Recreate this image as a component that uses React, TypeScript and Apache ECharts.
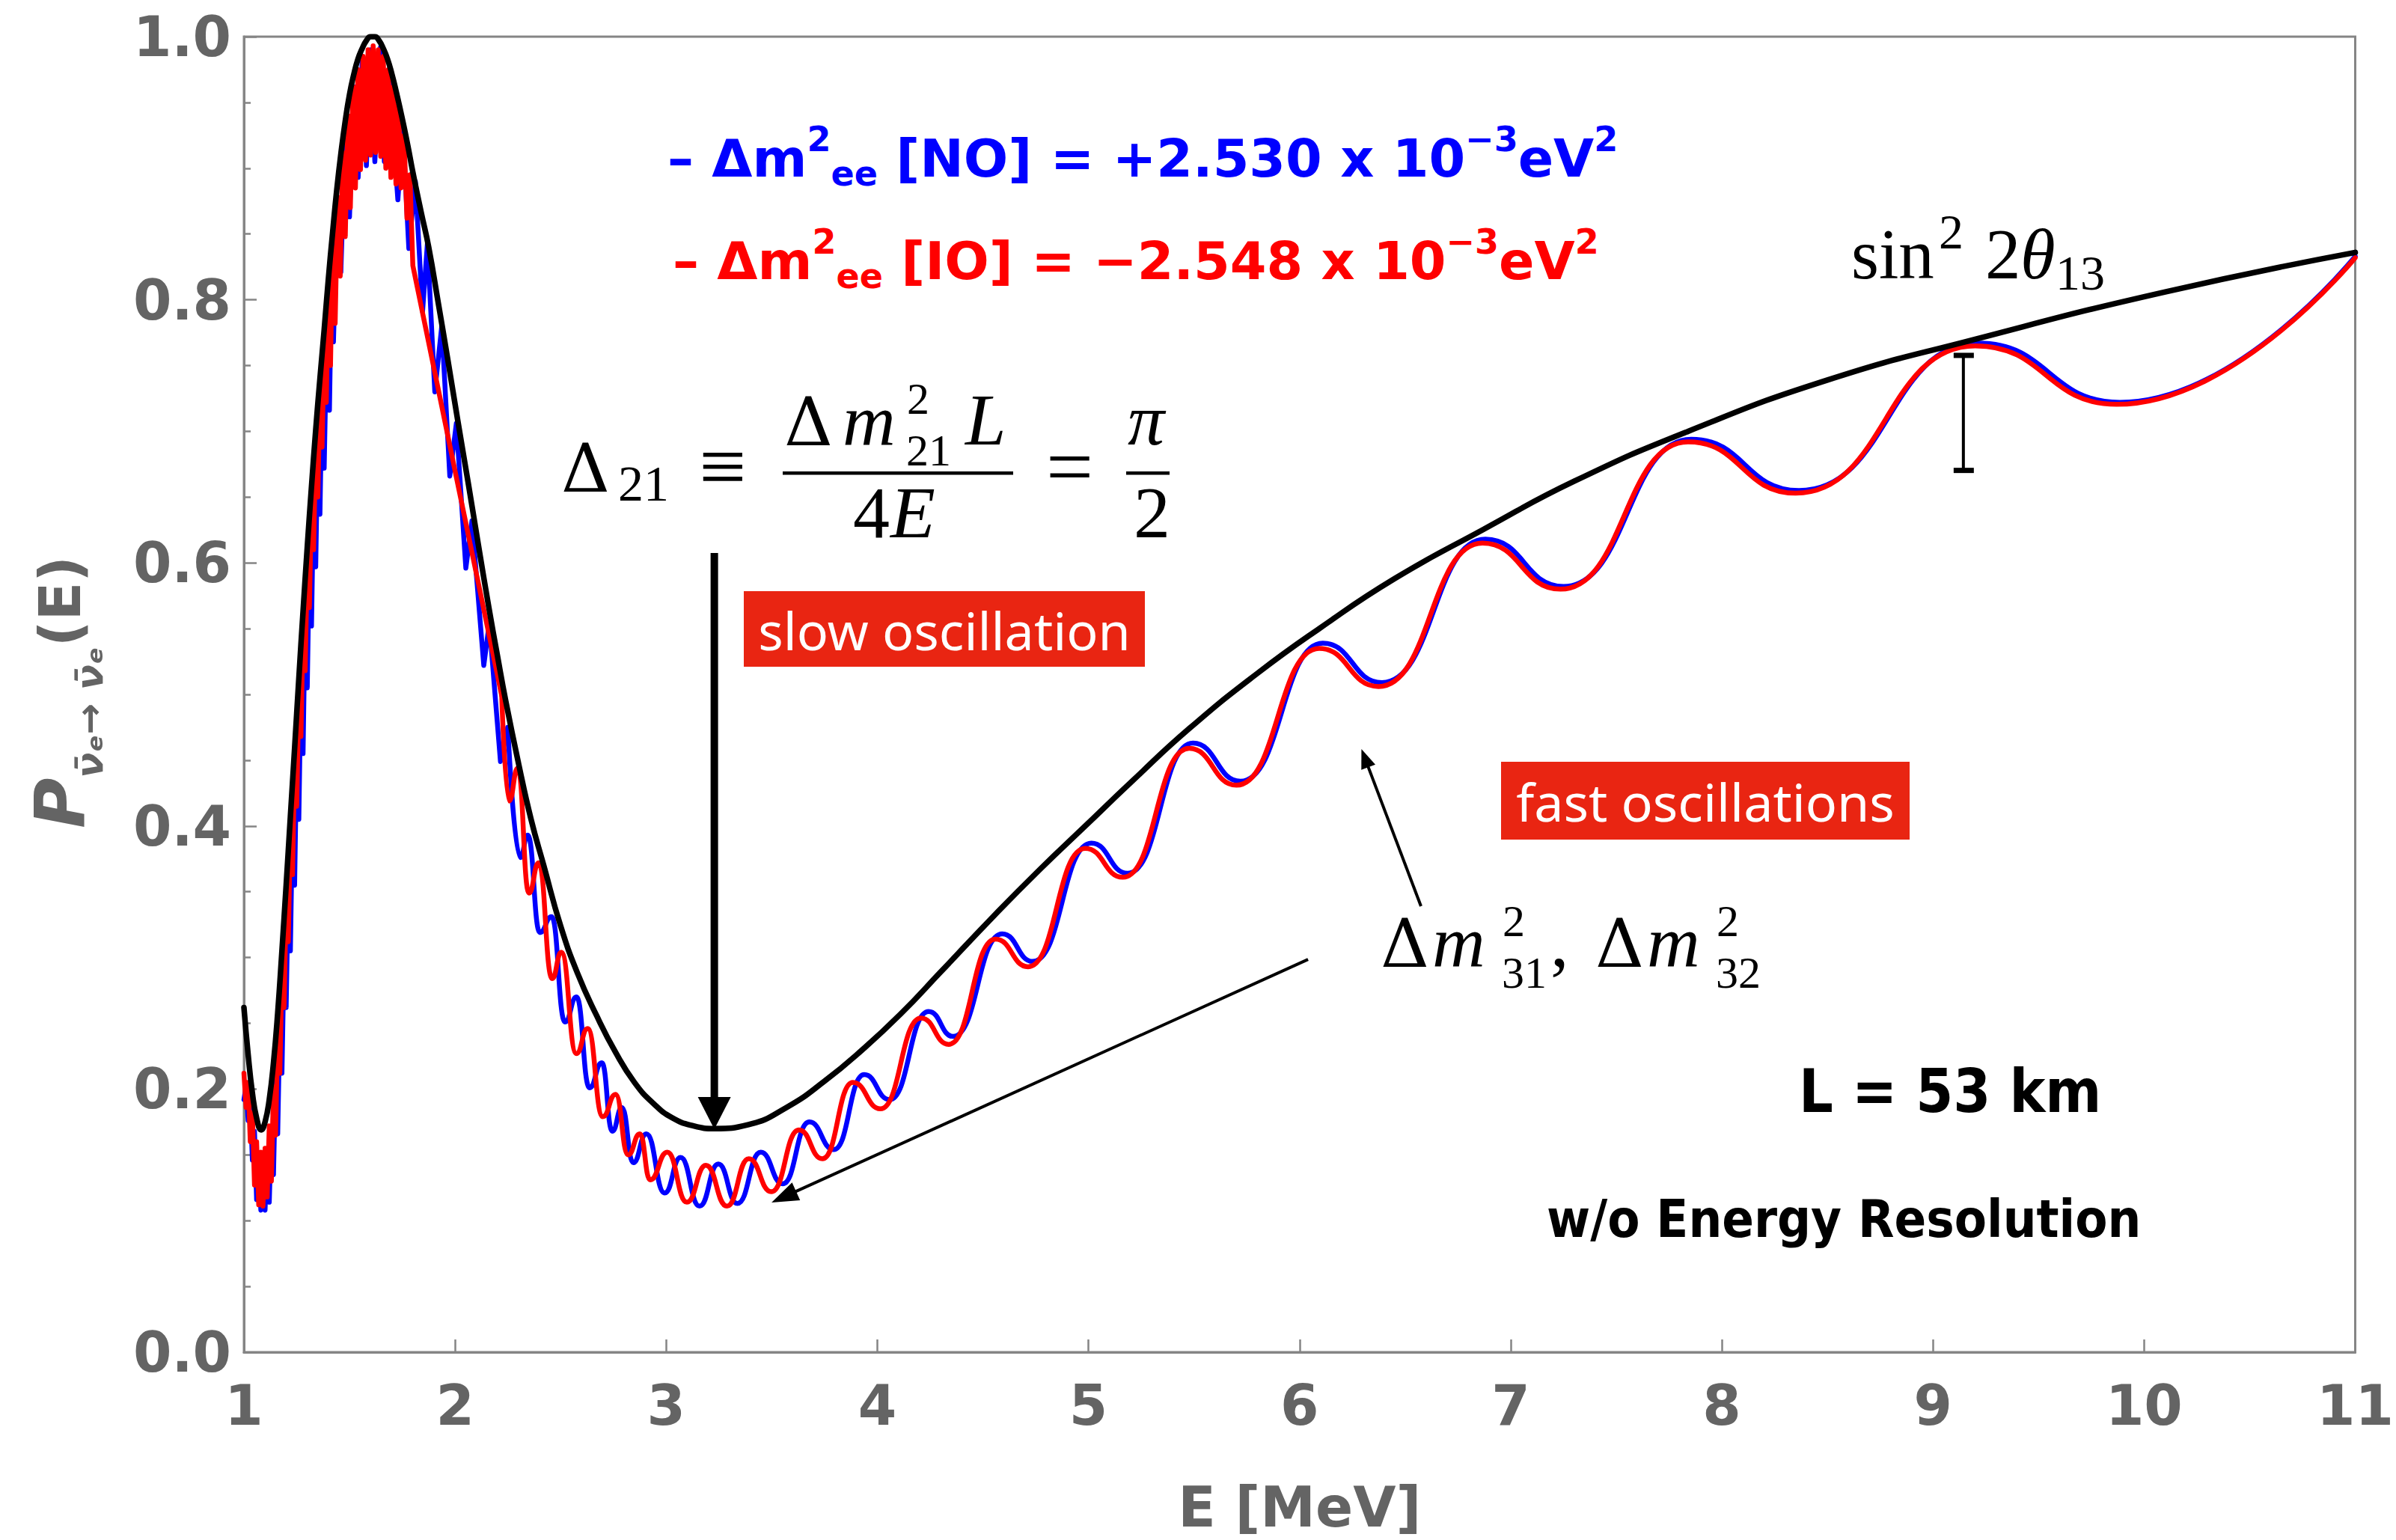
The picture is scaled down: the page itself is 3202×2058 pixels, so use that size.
import React, { useEffect, useRef } from "react";
import * as echarts from "echarts";

// ---------------- data ----------------
const xTicks = [1, 2, 3, 4, 5, 6, 7, 8, 9, 10, 11];
const yTickLabels = ["0.0", "0.2", "0.4", "0.6", "0.8", "1.0"];

// black curve: averaged (slow) oscillation
const envelope: number[][] = [
  [1.0, 0.262], [1.02, 0.226], [1.04, 0.197], [1.06, 0.178], [1.082, 0.169], [1.1, 0.175], [1.12, 0.192],
  [1.14, 0.22], [1.16, 0.258], [1.18, 0.305], [1.2, 0.355], [1.22, 0.407], [1.24, 0.459], [1.26, 0.512],
  [1.28, 0.563], [1.3, 0.612], [1.32, 0.658], [1.34, 0.701], [1.36, 0.74], [1.38, 0.777], [1.4, 0.816],
  [1.42, 0.851], [1.44, 0.884], [1.46, 0.912], [1.48, 0.936], [1.5, 0.956], [1.52, 0.971], [1.54, 0.983],
  [1.56, 0.991], [1.58, 0.997], [1.6, 1.0], [1.62, 1.0], [1.64, 0.997], [1.66, 0.991], [1.68, 0.983],
  [1.7, 0.972], [1.72, 0.959], [1.74, 0.945], [1.76, 0.93], [1.78, 0.914], [1.8, 0.897], [1.84, 0.866],
  [1.875, 0.84], [1.92, 0.798], [1.965, 0.755], [2.013, 0.708], [2.063, 0.66], [2.11, 0.614], [2.16, 0.566],
  [2.2, 0.53], [2.24, 0.495], [2.3, 0.448], [2.36, 0.405], [2.42, 0.37], [2.5, 0.324], [2.58, 0.288],
  [2.67, 0.256], [2.76, 0.228], [2.85, 0.205], [2.94, 0.189], [3.03, 0.178], [3.13, 0.172], [3.23, 0.17],
  [3.39, 0.173], [3.57, 0.186], [3.75, 0.206], [3.93, 0.23], [4.11, 0.257], [4.3, 0.289], [4.56, 0.333],
  [4.77, 0.367], [4.985, 0.4], [5.2, 0.433], [5.477, 0.474], [5.8, 0.516], [6.093, 0.55], [6.45, 0.588],
  [6.866, 0.625], [7.3, 0.662], [7.84, 0.7], [8.5, 0.739], [9.2, 0.77], [10.1, 0.806], [11.0, 0.836],
];

// NO (blue), low energy part (dense, unresolved fast oscillation)
const noLow: number[][] = [
  [1.0, 0.192], [1.01, 0.202], [1.02, 0.176], [1.03, 0.19], [1.04, 0.146], [1.05, 0.168], [1.06, 0.116],
  [1.07, 0.15], [1.08, 0.108], [1.09, 0.146], [1.1, 0.108], [1.11, 0.15], [1.12, 0.114], [1.13, 0.172],
  [1.14, 0.135], [1.15, 0.21], [1.16, 0.166], [1.17, 0.252], [1.18, 0.212], [1.19, 0.3], [1.2, 0.262],
  [1.21, 0.352], [1.22, 0.305], [1.23, 0.404], [1.24, 0.355], [1.25, 0.457], [1.26, 0.405], [1.27, 0.51],
  [1.28, 0.455], [1.29, 0.56], [1.3, 0.505], [1.31, 0.607], [1.32, 0.552], [1.33, 0.652], [1.34, 0.597],
  [1.35, 0.694], [1.36, 0.637], [1.37, 0.732], [1.38, 0.672], [1.392, 0.772], [1.405, 0.716], [1.415, 0.818],
  [1.424, 0.768], [1.442, 0.872], [1.459, 0.821], [1.48, 0.928], [1.5, 0.863], [1.52, 0.962], [1.541, 0.893],
  [1.56, 0.982], [1.58, 0.902], [1.6, 0.99], [1.62, 0.905], [1.647, 0.992], [1.665, 0.905], [1.688, 0.969],
  [1.729, 0.876], [1.752, 0.93], [1.781, 0.839], [1.812, 0.89], [1.846, 0.791], [1.869, 0.843], [1.904, 0.73],
  [1.937, 0.78], [1.975, 0.666], [2.006, 0.706], [2.051, 0.596], [2.08, 0.632], [2.136, 0.522], [2.162, 0.554],
  [2.215, 0.449], [2.25, 0.475],
];
// NO (blue), resolved fast oscillation: alternating maxima / minima
const noHigh: number[][] = [
  [2.25, 0.475], [2.309, 0.376], [2.344, 0.393], [2.402, 0.319], [2.457, 0.331], [2.521, 0.251], [2.575, 0.27],
  [2.637, 0.201], [2.695, 0.22], [2.745, 0.168], [2.79, 0.186], [2.844, 0.144], [2.906, 0.166], [2.993, 0.121],
  [3.068, 0.148], [3.158, 0.111], [3.247, 0.143], [3.337, 0.113], [3.448, 0.152], [3.552, 0.128], [3.678, 0.175],
  [3.794, 0.154], [3.938, 0.211], [4.058, 0.192], [4.243, 0.259], [4.359, 0.24], [4.592, 0.318], [4.736, 0.297],
  [5.014, 0.387], [5.185, 0.364], [5.495, 0.463], [5.72, 0.434], [6.11, 0.539], [6.39, 0.509], [6.88, 0.618],
  [7.25, 0.582], [7.855, 0.694], [8.365, 0.655], [9.215, 0.767], [9.885, 0.722], [11.0, 0.833],
];

// IO (red), low energy part
const ioLow: number[][] = [
  [1.0, 0.212], [1.01, 0.186], [1.02, 0.205], [1.03, 0.16], [1.04, 0.182], [1.05, 0.127], [1.06, 0.16],
  [1.07, 0.112], [1.08, 0.152], [1.09, 0.111], [1.1, 0.155], [1.11, 0.118], [1.12, 0.172], [1.13, 0.13],
  [1.14, 0.202], [1.15, 0.165], [1.16, 0.243], [1.17, 0.212], [1.18, 0.292], [1.19, 0.262], [1.2, 0.342],
  [1.21, 0.312], [1.22, 0.395], [1.23, 0.363], [1.24, 0.447], [1.25, 0.415], [1.26, 0.5], [1.27, 0.468],
  [1.28, 0.55], [1.29, 0.518], [1.3, 0.6], [1.31, 0.566], [1.32, 0.646], [1.33, 0.61], [1.34, 0.69],
  [1.35, 0.65], [1.36, 0.729], [1.37, 0.688], [1.38, 0.765], [1.39, 0.722], [1.4, 0.805], [1.41, 0.75],
  [1.42, 0.84], [1.432, 0.782], [1.444, 0.878], [1.456, 0.818], [1.468, 0.912], [1.48, 0.848], [1.492, 0.94],
  [1.504, 0.87], [1.516, 0.962], [1.528, 0.885], [1.54, 0.975], [1.552, 0.899], [1.564, 0.985], [1.576, 0.906],
  [1.588, 0.99], [1.6, 0.91], [1.612, 0.993], [1.624, 0.912], [1.636, 0.99], [1.648, 0.909], [1.66, 0.985],
  [1.672, 0.9], [1.684, 0.975], [1.696, 0.893], [1.708, 0.962], [1.72, 0.888], [1.732, 0.948], [1.744, 0.885],
  [1.758, 0.925], [1.772, 0.862], [1.786, 0.895], [1.8, 0.826], [2.01, 0.662], [2.221, 0.499],
];
// IO (red), resolved fast oscillation
const ioHigh: number[][] = [
  [2.221, 0.499], [2.256, 0.419], [2.297, 0.444], [2.35, 0.349], [2.396, 0.372], [2.46, 0.284], [2.503, 0.304],
  [2.575, 0.227], [2.628, 0.246], [2.7, 0.179], [2.76, 0.196], [2.82, 0.15], [2.875, 0.166], [2.924, 0.131],
  [3.005, 0.152], [3.098, 0.114], [3.188, 0.142], [3.288, 0.111], [3.391, 0.147], [3.498, 0.122], [3.629, 0.169],
  [3.74, 0.147], [3.884, 0.205], [4.015, 0.185], [4.207, 0.254], [4.338, 0.234], [4.56, 0.314], [4.714, 0.293],
  [4.985, 0.383], [5.163, 0.361], [5.477, 0.459], [5.701, 0.431], [6.093, 0.535], [6.374, 0.506], [6.866, 0.615],
  [7.236, 0.58], [7.84, 0.692], [8.35, 0.653], [9.2, 0.765], [9.87, 0.7205], [11.0, 0.832],
];

// annotation anchors in data units [E, P]
const slowArrow = { e: 3.228, pTop: 0.6075, pTip: 0.1695 };
const fastArrowUp = { from: [6.575, 0.339], to: [6.293, 0.4585] };
const fastArrowDown = { from: [6.04, 0.2986], to: [3.499, 0.1138] };
const theta13Bar = { e: 9.144, pLow: 0.67, pHigh: 0.758 };

// ---------------- styles ----------------
const SANS = '"DejaVu Sans", "Liberation Sans", sans-serif';
const COND = '"DejaVu Sans Condensed", "Liberation Sans Narrow", "DejaVu Sans", sans-serif';
const SERIF = '"Liberation Serif", "DejaVu Serif", serif';
const DSERIF = '"DejaVu Serif", "Liberation Serif", serif';
const AXIS = "#858585";
const LABEL = "#646464";
const BOX_RED = "#E92512";

function txt(text: string, x: number, base: number, size: number, o: any = {}) {
  return {
    type: "text",
    x,
    y: base - 0.34 * size,
    z: 100,
    style: {
      text,
      fill: o.color || "#000",
      fontSize: size,
      fontFamily: o.family || SERIF,
      fontWeight: o.weight || "normal",
      fontStyle: o.italic ? "italic" : "normal",
      lineHeight: o.lh || size,
      align: o.align || "left",
      verticalAlign: "middle",
    },
  };
}

function arrow(p1: number[], p2: number[], width: number, headLen: number, headW: number) {
  const dx = p2[0] - p1[0];
  const dy = p2[1] - p1[1];
  const len = Math.hypot(dx, dy);
  const ux = dx / len;
  const uy = dy / len;
  const bx = p2[0] - ux * headLen;
  const by = p2[1] - uy * headLen;
  const nx = -uy;
  const ny = ux;
  return [
    { type: "line", z: 100, shape: { x1: p1[0], y1: p1[1], x2: bx + ux * 2, y2: by + uy * 2 }, style: { stroke: "#000", lineWidth: width } },
    {
      type: "polygon",
      z: 100,
      shape: { points: [[p2[0], p2[1]], [bx + nx * headW / 2, by + ny * headW / 2], [bx - nx * headW / 2, by - ny * headW / 2]] },
      style: { fill: "#000" },
    },
  ];
}

function legend(x: number, y: number, value: string, order: string, color: string) {
  const base = { fontFamily: SANS, fontWeight: "bold", fill: color };
  return {
    type: "text",
    x,
    y,
    z: 100,
    style: {
      text: `{t|– Δm}{sup|2}{sub|ee}{t| [${order}] = ${value} x 10}{sup|−3}{t|eV}{sup|2}`,
      fill: color,
      align: "left",
      verticalAlign: "middle",
      rich: {
        t: { ...base, fontSize: 70, lineHeight: 98 },
        sup: { ...base, fontSize: 46, lineHeight: 46, verticalAlign: "top" },
        sub: { ...base, fontSize: 46, lineHeight: 46, verticalAlign: "bottom", padding: [0, 0, 6, 0] },
      },
    },
  };
}

function buildGraphics(px: (e: number, p: number) => number[]) {
  const g: any[] = [];
  // legend
  g.push(legend(892, 212, "+2.530", "NO", "#0000FF"));
  g.push(legend(899, 349, "−2.548", "IO", "#FF0000"));

  // Delta_21 formula
  g.push(txt("Δ", 750, 656, 90, { family: DSERIF }));
  g.push(txt("21", 826, 669, 68, { lh: 50 }));
  g.push(txt("≡", 934, 661, 112));
  g.push(txt("Δ", 1048, 594, 90, { family: DSERIF }));
  g.push(txt("m", 1126, 594, 98, { italic: true }));
  g.push(txt("2", 1212, 553, 60, { lh: 44 }));
  g.push(txt("21", 1211, 622, 60, { lh: 44 }));
  g.push(txt("L", 1290, 594, 98, { italic: true }));
  g.push({ type: "rect", z: 100, shape: { x: 1046, y: 630, width: 308, height: 4.5 }, style: { fill: "#000" } });
  g.push(txt("4", 1140, 718, 98));
  g.push(txt("E", 1190, 718, 98, { italic: true }));
  g.push(txt("=", 1398, 661, 112));
  g.push(txt("π", 1507, 594, 98, { italic: true }));
  g.push({ type: "rect", z: 100, shape: { x: 1505, y: 630, width: 58, height: 4.5 }, style: { fill: "#000" } });
  g.push(txt("2", 1515, 718, 98));

  // slow oscillation arrow
  const a1 = px(slowArrow.e, slowArrow.pTop);
  const a2 = px(slowArrow.e, slowArrow.pTip);
  g.push(...arrow(a1, a2, 10, 43, 44));

  // boxes
  g.push({ type: "rect", z: 100, shape: { x: 994, y: 790, width: 536, height: 101 }, style: { fill: BOX_RED } });
  g.push({
    type: "text", x: 1262, y: 842, z: 101,
    style: { text: "slow oscillation", fill: "#fff", fontSize: 70, lineHeight: 80, fontFamily: '"Noto Sans", sans-serif', align: "center", verticalAlign: "middle" },
  });
  g.push({ type: "rect", z: 100, shape: { x: 2006, y: 1018, width: 546, height: 104 }, style: { fill: BOX_RED } });
  g.push({
    type: "text", x: 2279, y: 1071, z: 101,
    style: { text: "fast oscillations", fill: "#fff", fontSize: 70, lineHeight: 80, fontFamily: '"Noto Sans", sans-serif', align: "center", verticalAlign: "middle" },
  });

  // Delta m^2_31, Delta m^2_32 label
  g.push(txt("Δ", 1845, 1291, 90, { family: DSERIF }));
  g.push(txt("m", 1914, 1291, 98, { italic: true }));
  g.push(txt("2", 2008, 1251, 60, { lh: 44 }));
  g.push(txt("31", 2007, 1320, 60, { lh: 44 }));
  g.push(txt(",", 2072, 1291, 98));
  g.push(txt("Δ", 2132, 1291, 90, { family: DSERIF }));
  g.push(txt("m", 2201, 1291, 98, { italic: true }));
  g.push(txt("2", 2294, 1251, 60, { lh: 44 }));
  g.push(txt("32", 2293, 1320, 60, { lh: 44 }));

  g.push(...arrow(px(fastArrowUp.from[0], fastArrowUp.from[1]), px(fastArrowUp.to[0], fastArrowUp.to[1]), 4, 26, 20));
  g.push(...arrow(px(fastArrowDown.from[0], fastArrowDown.from[1]), px(fastArrowDown.to[0], fastArrowDown.to[1]), 4, 36, 26));

  // sin^2 2theta13
  g.push(txt("sin", 2474, 372, 95));
  g.push(txt("2", 2591, 332, 66, { lh: 50 }));
  g.push(txt("2", 2653, 372, 95));
  g.push(txt("θ", 2700, 372, 95, { italic: true }));
  g.push(txt("13", 2747, 387, 66, { lh: 50 }));

  // error bar
  const b1 = px(theta13Bar.e, theta13Bar.pHigh);
  const b2 = px(theta13Bar.e, theta13Bar.pLow);
  g.push({ type: "line", z: 100, shape: { x1: b1[0], y1: b1[1], x2: b2[0], y2: b2[1] }, style: { stroke: "#000", lineWidth: 4 } });
  g.push({ type: "rect", z: 100, shape: { x: b1[0] - 13, y: b1[1] - 3, width: 27, height: 7 }, style: { fill: "#000" } });
  g.push({ type: "rect", z: 100, shape: { x: b2[0] - 13, y: b2[1] - 4, width: 27, height: 7 }, style: { fill: "#000" } });

  // side texts
  g.push(txt("L = 53 km", 2404, 1486, 80, { family: COND, weight: "bold" }));
  g.push(txt("w/o Energy Resolution", 2067, 1653, 70, { family: COND, weight: "bold" }));

  // y axis title
  g.push({
    type: "text", x: 80, y: 925, rotation: Math.PI / 2, z: 100,
    style: {
      text: "{p|P}{s|ν̄ₑ→ ν̄ₑ}{e|(E)}",
      align: "center", verticalAlign: "middle", fill: LABEL,
      rich: {
        p: { fontSize: 92, fontWeight: "bold", fontStyle: "italic", fontFamily: SANS, fill: LABEL, lineHeight: 130 },
        s: { fontSize: 50, fontWeight: "bold", fontStyle: "italic", fontFamily: SANS, fill: LABEL, lineHeight: 50, verticalAlign: "bottom" },
        e: { fontSize: 76, fontWeight: "bold", fontFamily: SANS, fill: LABEL, lineHeight: 130 },
      },
    },
  });
  return g;
}

export default function App() {
  const ref = useRef<HTMLDivElement>(null);
  useEffect(() => {
    if (!ref.current) return;
    const chart = echarts.init(ref.current, null, { renderer: "svg" });
    const lineSeries = (name: string, data: number[][], color: string, width: number, z: number, mode: "poly" | "osc" | "smooth") => ({
      type: "line",
      name,
      data,
      z,
      showSymbol: false,
      symbol: "none",
      clip: true,
      smooth: mode === "poly" ? false : 0.5,
      smoothMonotone: mode === "osc" ? "x" : undefined,
      lineStyle: { color, width, cap: "round", join: "round" },
      emphasis: { disabled: true },
    });
    chart.setOption({
      animation: false,
      backgroundColor: "#ffffff",
      grid: { left: 326, right: 31, top: 49, bottom: 251, show: true, borderColor: AXIS, borderWidth: 3, backgroundColor: "transparent" },
      xAxis: {
        type: "value", min: xTicks[0], max: xTicks[xTicks.length - 1], interval: 1,
        axisLine: { show: true, lineStyle: { color: AXIS, width: 3 } },
        axisTick: { show: true, inside: true, length: 17, lineStyle: { color: AXIS, width: 2.5 } },
        axisLabel: { margin: 34, color: LABEL, fontSize: 74, fontWeight: "bold", fontFamily: SANS, formatter: (v: number) => String(v) },
        splitLine: { show: false },
        name: "E [MeV]", nameLocation: "middle", nameGap: 170,
        nameTextStyle: { color: LABEL, fontSize: 74, fontWeight: "bold", fontFamily: SANS },
      },
      yAxis: {
        type: "value", min: 0, max: 1, interval: 0.2,
        axisLine: { show: true, lineStyle: { color: AXIS, width: 3 } },
        axisTick: { show: true, inside: true, length: 17, lineStyle: { color: AXIS, width: 2.5 } },
        minorTick: { show: true, splitNumber: 4, length: 9, lineStyle: { color: AXIS, width: 2.5 } },
        axisLabel: {
          margin: 17, color: LABEL, fontSize: 74, fontWeight: "bold", fontFamily: SANS,
          formatter: (v: number) => yTickLabels[Math.round(v * 5)] ?? v.toFixed(1),
        },
        splitLine: { show: false },
        minorSplitLine: { show: false },
      },
      series: [
        lineSeries("NO low", noLow, "#0000FF", 6.5, 1, "poly"),
        lineSeries("NO", noHigh, "#0000FF", 6.5, 1, "osc"),
        lineSeries("IO low", ioLow, "#FF0000", 6.5, 2, "poly"),
        lineSeries("IO", ioHigh, "#FF0000", 6.5, 2, "osc"),
        lineSeries("averaged", envelope, "#000000", 7.5, 3, "smooth"),
      ],
    });
    const px = (e: number, p: number) => chart.convertToPixel({ gridIndex: 0 }, [e, p]) as number[];
    chart.setOption({ graphic: buildGraphics(px) });
    return () => chart.dispose();
  }, []);
  return <div ref={ref} style={{ position: "fixed", left: 0, top: 0, width: 3202, height: 2058, background: "#fff" }} />;
}
